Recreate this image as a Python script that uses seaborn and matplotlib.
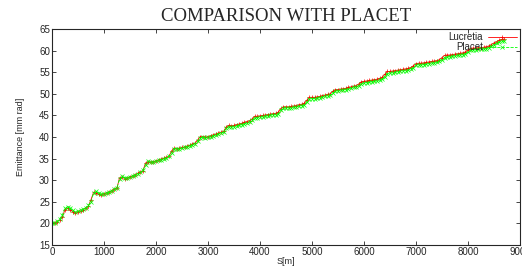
import numpy as np
import pandas as pd
import matplotlib
matplotlib.use("Agg")
import matplotlib.pyplot as plt
import seaborn as sns

sns.set_style("ticks", {"xtick.direction": "in", "ytick.direction": "in"})
plt.rcParams['font.family'] = ['Liberation Sans', 'DejaVu Sans']

# position along the linac [m], sampled every 50 m
s = list(range(0, 8701, 50))

lucretia = [20.1, 20.2, 20.4, 20.8, 21.5, 23.2, 23.5, 23.2, 22.7, 22.5,
            22.7, 22.9, 23.2, 23.5, 24.0, 25.5, 27.2, 27.0, 26.7, 26.6,
            26.9, 27.1, 27.3, 27.6, 27.9, 28.2, 30.6, 30.7, 30.4, 30.5,
            30.8, 31.0, 31.3, 31.6, 31.9, 32.2, 34.0, 34.3, 34.2, 34.3,
            34.5, 34.7, 34.9, 35.1, 35.3, 35.5, 36.8, 37.4, 37.3, 37.4,
            37.6, 37.7, 37.9, 38.1, 38.4, 38.6, 39.3, 40.1, 40.1, 40.0,
            40.1, 40.3, 40.5, 40.7, 40.9, 41.1, 41.3, 42.3, 42.7, 42.6,
            42.7, 42.9, 43.0, 43.2, 43.4, 43.6, 43.8, 44.2, 44.8, 44.8,
            44.9, 45.0, 45.1, 45.2, 45.3, 45.4, 45.5, 45.7, 46.6, 47.0,
            47.0, 47.0, 47.1, 47.2, 47.3, 47.5, 47.6, 47.8, 48.5, 49.2,
            49.2, 49.2, 49.3, 49.4, 49.6, 49.7, 49.9, 50.0, 50.6, 51.0,
            51.0, 51.1, 51.2, 51.3, 51.5, 51.6, 51.8, 51.9, 52.3, 52.8,
            52.9, 53.0, 53.1, 53.2, 53.3, 53.4, 53.6, 53.8, 54.5, 55.2,
            55.2, 55.3, 55.4, 55.5, 55.6, 55.7, 55.8, 55.9, 56.1, 56.5,
            57.0, 57.1, 57.1, 57.2, 57.3, 57.4, 57.5, 57.6, 57.7, 57.9,
            58.4, 58.9, 59.0, 59.0, 59.1, 59.2, 59.3, 59.4, 59.5, 59.7,
            60.1, 60.5, 60.6, 60.6, 60.7, 60.7, 60.8, 60.9, 61.1, 61.4,
            61.8, 62.1, 62.4, 62.6, 62.7]

placet = [20.0, 20.1, 20.5, 21.0, 22.0, 23.5, 23.8, 23.6, 23.0, 22.6,
          22.8, 23.0, 23.3, 23.6, 24.2, 25.0, 27.0, 27.4, 27.0, 26.8,
          26.9, 27.1, 27.3, 27.6, 28.0, 28.3, 30.2, 30.9, 30.6, 30.6,
          30.8, 31.0, 31.3, 31.5, 31.8, 32.3, 33.6, 34.4, 34.2, 34.2,
          34.4, 34.6, 34.8, 35.0, 35.2, 35.5, 36.4, 37.3, 37.3, 37.2,
          37.4, 37.6, 37.8, 38.0, 38.2, 38.5, 39.0, 39.8, 39.9, 39.8,
          39.9, 40.1, 40.3, 40.5, 40.7, 40.9, 41.1, 42.0, 42.4, 42.3,
          42.4, 42.6, 42.7, 42.9, 43.1, 43.3, 43.5, 43.9, 44.5, 44.5,
          44.6, 44.7, 44.8, 44.9, 45.0, 45.1, 45.2, 45.4, 46.2, 46.7,
          46.7, 46.7, 46.8, 46.9, 47.0, 47.2, 47.3, 47.5, 48.1, 48.8,
          48.9, 48.9, 49.0, 49.1, 49.3, 49.4, 49.6, 49.7, 50.2, 50.6,
          50.7, 50.8, 50.9, 51.0, 51.2, 51.3, 51.5, 51.6, 51.9, 52.4,
          52.5, 52.6, 52.7, 52.8, 52.9, 53.0, 53.2, 53.4, 54.0, 54.7,
          54.8, 54.9, 55.0, 55.1, 55.2, 55.3, 55.4, 55.5, 55.7, 56.1,
          56.6, 56.7, 56.7, 56.8, 56.9, 57.0, 57.1, 57.2, 57.3, 57.5,
          57.9, 58.4, 58.5, 58.6, 58.7, 58.8, 58.9, 59.0, 59.1, 59.3,
          59.7, 60.1, 60.2, 60.2, 60.3, 60.3, 60.4, 60.5, 60.7, 61.0,
          61.4, 61.7, 62.0, 62.2, 62.2]

df = pd.DataFrame({'s': s, 'Lucretia': lucretia, 'Placet': placet})

fig = plt.figure(figsize=(5.22, 2.67), dpi=100)
ax = fig.add_axes([0.0996, 0.0824, 0.8964, 0.8086])

sns.lineplot(data=df, x='s', y='Lucretia', ax=ax, color='#ff0000', lw=0.6,
             marker='+', markersize=3, markeredgewidth=0.5,
             markeredgecolor='#ff0000', label='Lucretia')
sns.lineplot(data=df, x='s', y='Placet', ax=ax, color='#00ff00', lw=0.6,
             linestyle='--', marker='x', markersize=2.8, markeredgewidth=0.5,
             markeredgecolor='#00ff00', label='Placet')

ax.set_xlim(0, 9000)
ax.set_ylim(15, 65)
ax.set_xticks(range(0, 9001, 1000))
ax.set_yticks(range(15, 66, 5))
ax.tick_params(labelsize=7, length=3, width=0.6, top=True, right=True, pad=1.5)
for sp in ax.spines.values():
    sp.set_visible(True)
    sp.set_linewidth(0.8)
ax.set_xlabel("S[m]", fontsize=6.5, labelpad=0)
ax.set_ylabel("Emittance [mm rad]", fontsize=6.5, labelpad=10)
ax.set_title("COMPARISON WITH PLACET", fontsize=13.5, family='Liberation Serif', pad=6)

ax.legend(loc='upper right', frameon=False, fontsize=7, markerfirst=False,
          handlelength=3, borderpad=0.0, borderaxespad=0.3,
          labelspacing=0.0, handletextpad=0.5)

plt.savefig('out.png', dpi=100)
